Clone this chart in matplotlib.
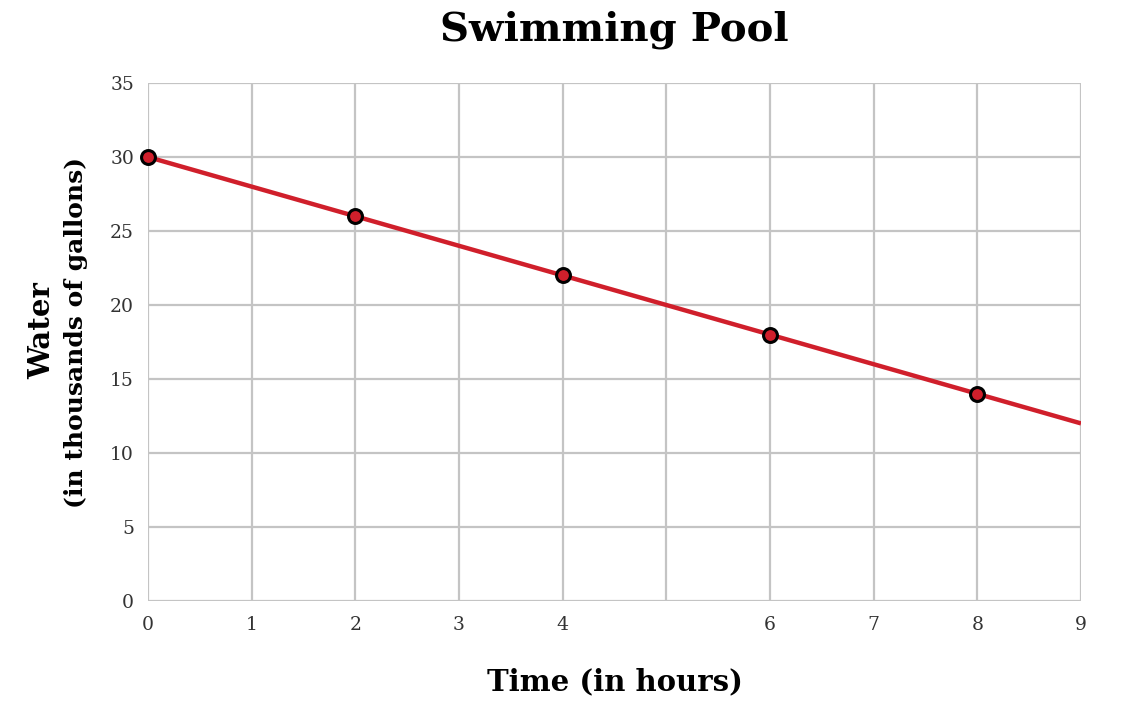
import matplotlib
matplotlib.use('Agg')
import matplotlib.pyplot as plt

hours = [0, 2, 4, 6, 8]
water = [30, 26, 22, 18, 14]
line_hours = [0, 9]
line_water = [30, 12]
x_ticks = [0, 1, 2, 3, 4, 6, 7, 8, 9]
y_ticks = [0, 5, 10, 15, 20, 25, 30, 35]

plt.rcParams['font.family'] = 'DejaVu Serif'

fig = plt.figure(figsize=(11.46, 7.10), dpi=100)
ax = fig.add_axes([0.1291, 0.1535, 0.8142, 0.7296])

ax.plot(line_hours, line_water, color='#d01f2b', lw=3.2, zorder=3, solid_capstyle='butt')
ax.plot(hours, water, 'o', ms=10, mfc='#d01f2b', mec='black', mew=2.2, zorder=4, clip_on=False)

ax.set_xlim(0, 9)
ax.set_ylim(0, 35)
ax.set_xticks(x_ticks)
ax.set_yticks(y_ticks)
# vertical grid line at 5 has no label
for x in range(10):
    ax.axvline(x, color='#c4c4c4', lw=1.6, zorder=1)
for y in y_ticks:
    ax.axhline(y, color='#c4c4c4', lw=1.6, zorder=1)
for s in ax.spines.values():
    s.set_visible(False)
ax.tick_params(length=0, labelsize=13.5, colors='#333333')
ax.tick_params(axis='x', pad=11)
ax.tick_params(axis='y', pad=10)

fig.text(0.536, 0.958, 'Swimming Pool', ha='center', va='center', fontsize=29, fontweight='bold')
fig.text(0.537, 0.039, 'Time (in hours)', ha='center', va='center', fontsize=21, fontweight='bold')
fig.text(0.036, 0.535, 'Water', ha='center', va='center', rotation=90, fontsize=21, fontweight='bold')
fig.text(0.066, 0.532, '(in thousands of gallons)', ha='center', va='center', rotation=90, fontsize=18, fontweight='bold')

fig.savefig('out.png', dpi=100)
